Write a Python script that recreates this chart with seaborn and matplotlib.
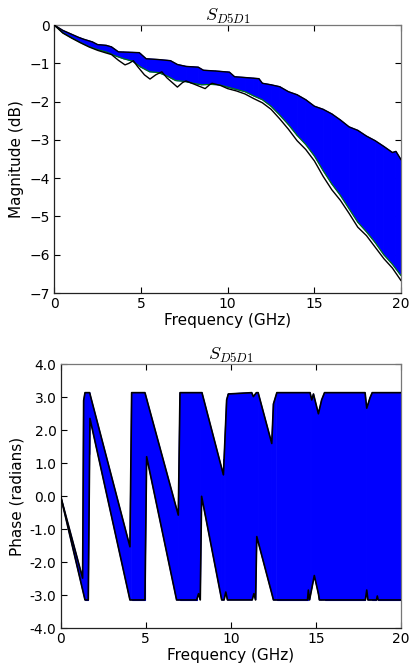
import numpy as np
import matplotlib
matplotlib.use("Agg")
import matplotlib.pyplot as plt
import seaborn as sns
from matplotlib.ticker import FormatStrFormatter, MultipleLocator

sns.set_style("ticks")
plt.rcParams['font.family'] = ['DejaVu Sans']
plt.rcParams['mathtext.fontset'] = 'cm'
plt.rcParams['axes.unicode_minus'] = True
plt.rcParams['text.color'] = 'black'
plt.rcParams['axes.labelcolor'] = 'black'

# magnitude envelopes (GHz, dB)
mag_upper_f = [0, 0.5, 1.0, 1.4, 1.7, 2.2, 2.5, 3.0, 3.3, 3.7, 4.3, 4.9, 5.3, 6.0, 6.7, 7.1, 7.6,
               8.3, 8.6, 9.3, 10.1, 10.4, 11.0, 11.8, 12.0, 12.5, 13.0, 13.5, 14.0, 14.5, 15.0,
               15.5, 16.0, 16.5, 17.0, 17.5, 18.0, 18.5, 19.0, 19.5, 19.7, 20.0]
mag_upper_db = [0, -0.14, -0.24, -0.32, -0.37, -0.44, -0.51, -0.53, -0.57, -0.70, -0.71, -0.72,
                -0.88, -0.90, -0.93, -1.03, -1.08, -1.10, -1.18, -1.20, -1.23, -1.35, -1.37, -1.40,
                -1.52, -1.56, -1.61, -1.74, -1.82, -1.95, -2.12, -2.20, -2.32, -2.48, -2.66, -2.75,
                -2.90, -3.02, -3.17, -3.33, -3.30, -3.52]

mag_lower_f = [0, 0.5, 1.0, 1.5, 2.0, 2.5, 3.0, 3.3, 3.7, 4.08, 4.3, 4.56, 4.8, 5.2, 5.52, 5.85,
               6.2, 6.5, 7.1, 7.4, 7.6, 8.1, 8.7, 8.95, 9.1, 9.6, 10.0, 10.5, 11.0, 11.5, 12.0,
               12.5, 13.0, 13.5, 14.0, 14.5, 15.0, 15.5, 16.0, 16.5, 17.0, 17.5, 18.0, 18.5,
               19.0, 19.5, 20.0]
mag_lower_db = [0, -0.21, -0.34, -0.46, -0.57, -0.66, -0.73, -0.77, -0.92, -1.04, -1.00, -0.93,
                -1.08, -1.30, -1.41, -1.30, -1.22, -1.38, -1.62, -1.50, -1.46, -1.55, -1.66, -1.56,
                -1.52, -1.58, -1.66, -1.72, -1.80, -1.92, -2.03, -2.20, -2.45, -2.72, -3.02, -3.25,
                -3.55, -3.95, -4.30, -4.58, -4.92, -5.28, -5.50, -5.80, -6.10, -6.35, -6.68]

mag_low_sample_f = [0, 0.5, 1.0, 1.5, 2.0, 2.5, 3.0, 3.5, 4.0, 4.5, 5.0, 5.5, 6.0, 6.5, 7.0, 7.5,
                    8.0, 8.5, 9.0, 9.5, 10.0, 10.5, 11.0, 11.5, 12.0, 12.5, 13.0, 13.5, 14.0,
                    14.5, 15.0, 15.5, 16.0, 16.5, 17.0, 17.5, 18.0, 18.5, 19.0, 19.5, 20.0]
mag_low_sample_db = [0, -0.20, -0.33, -0.45, -0.56, -0.64, -0.70, -0.80, -0.88, -0.94, -1.10,
                     -1.22, -1.24, -1.33, -1.45, -1.47, -1.52, -1.56, -1.55, -1.56, -1.62, -1.68,
                     -1.74, -1.85, -1.95, -2.12, -2.35, -2.60, -2.88, -3.12, -3.42, -3.80, -4.15,
                     -4.45, -4.80, -5.15, -5.40, -5.68, -6.00, -6.25, -6.55]

# phase envelopes (GHz, rad)
ph_upper_f = [0, 1.29, 1.35, 1.43, 1.70, 4.07, 4.17, 4.95, 6.91, 7.01, 8.30, 9.56, 9.75, 9.85,
              11.22, 11.32, 11.5, 11.6, 12.4, 12.5, 12.7, 14.65, 14.75, 14.85, 15.14, 15.33,
              15.5, 17.88, 17.98, 18.17, 18.3, 20.0]
ph_upper_rad = [0, -2.48, 2.90, 3.14, 3.14, -1.53, 3.14, 3.14, -0.57, 3.14, 3.14, 0.65, 2.92,
                3.10, 3.14, 3.02, 3.14, 3.14, 1.60, 2.80, 3.14, 3.14, 2.92, 3.10, 2.50, 2.92,
                3.14, 3.14, 2.67, 2.98, 3.14, 3.14]

ph_lower_f = [0, 1.43, 1.62, 1.72, 4.07, 4.95, 5.05, 6.81, 7.99, 8.10, 8.20, 8.28, 9.46, 9.60,
              9.70, 9.80, 11.25, 11.35, 11.45, 11.52, 12.4, 12.5, 14.5, 14.55, 14.62, 14.9,
              15.14, 15.2, 17.9, 17.98, 18.05, 18.55, 18.6, 18.65, 20.0]
ph_lower_rad = [0, -3.14, -3.14, 2.36, -3.14, -3.14, 1.20, -3.14, -3.14, -2.95, -3.14, 0.0,
                -3.14, -3.14, -2.90, -3.14, -3.14, -2.95, -3.14, -1.22, -2.94, -3.14, -3.14,
                -2.84, -3.14, -2.40, -2.95, -3.14, -3.14, -2.84, -3.14, -3.14, -3.02, -3.14,
                -3.14]

blue = '#0000ff'
fs = 11
tfs = 10


def band(ax, f_hi, v_hi, f_lo, v_lo):
    # blue spread of all samples between the two read-off edges, one strip per interval
    grid = np.union1d(f_hi, f_lo)
    hi = np.interp(grid, f_hi, v_hi)
    lo = np.interp(grid, f_lo, v_lo)
    for i in range(len(grid) - 1):
        ax.fill([grid[i], grid[i + 1], grid[i + 1], grid[i]],
                [lo[i], lo[i + 1], hi[i + 1], hi[i]],
                facecolor=blue, edgecolor=blue, linewidth=0.8, zorder=1)


fig = plt.figure(figsize=(4.11, 6.69), dpi=100)
ax1 = fig.add_axes([0.132, 0.562, 0.844, 0.4005])
ax2 = fig.add_axes([0.1476, 0.0608, 0.8284, 0.3947])

# magnitude
band(ax1, mag_upper_f, mag_upper_db, mag_low_sample_f, mag_low_sample_db)
sns.lineplot(x=mag_low_sample_f, y=mag_low_sample_db, ax=ax1, color='green',
             linewidth=0.8, sort=False, estimator=None, zorder=2)
sns.lineplot(x=mag_upper_f, y=mag_upper_db, ax=ax1, color='black',
             linewidth=1.0, sort=False, estimator=None, zorder=3)
sns.lineplot(x=mag_lower_f, y=mag_lower_db, ax=ax1, color='black',
             linewidth=1.0, sort=False, estimator=None, zorder=3)
ax1.set_xlim(0, 20)
ax1.set_ylim(-7, 0)
ax1.xaxis.set_major_locator(MultipleLocator(5))
ax1.yaxis.set_major_locator(MultipleLocator(1))
ax1.set_xlabel('Frequency (GHz)', fontsize=fs, labelpad=1)
ax1.set_ylabel('Magnitude (dB)', fontsize=fs, labelpad=4)
ax1.set_title('$S_{D5D1}$', fontsize=13, pad=3)

# phase
band(ax2, ph_upper_f, ph_upper_rad, ph_lower_f, ph_lower_rad)
sns.lineplot(x=ph_upper_f, y=ph_upper_rad, ax=ax2, color='black',
             linewidth=1.2, sort=False, estimator=None, zorder=3)
sns.lineplot(x=ph_lower_f, y=ph_lower_rad, ax=ax2, color='black',
             linewidth=1.2, sort=False, estimator=None, zorder=3)
ax2.set_xlim(0, 20)
ax2.set_ylim(-4, 4)
ax2.xaxis.set_major_locator(MultipleLocator(5))
ax2.yaxis.set_major_locator(MultipleLocator(1))
ax2.yaxis.set_major_formatter(FormatStrFormatter('%.1f'))
ax2.set_xlabel('Frequency (GHz)', fontsize=fs, labelpad=1)
ax2.set_ylabel('Phase (radians)', fontsize=fs, labelpad=4)
ax2.set_title('$S_{D5D1}$', fontsize=13, pad=3)

for ax in (ax1, ax2):
    ax.tick_params(direction='in', top=True, right=True, length=4, width=0.8,
                   labelsize=tfs, pad=3, colors='black')
    for side, sp in ax.spines.items():
        sp.set_visible(True)
        sp.set_linewidth(0.9)
        sp.set_color('#222222' if side in ('left', 'bottom') else '#777777')

fig.savefig('out.png', dpi=100)
